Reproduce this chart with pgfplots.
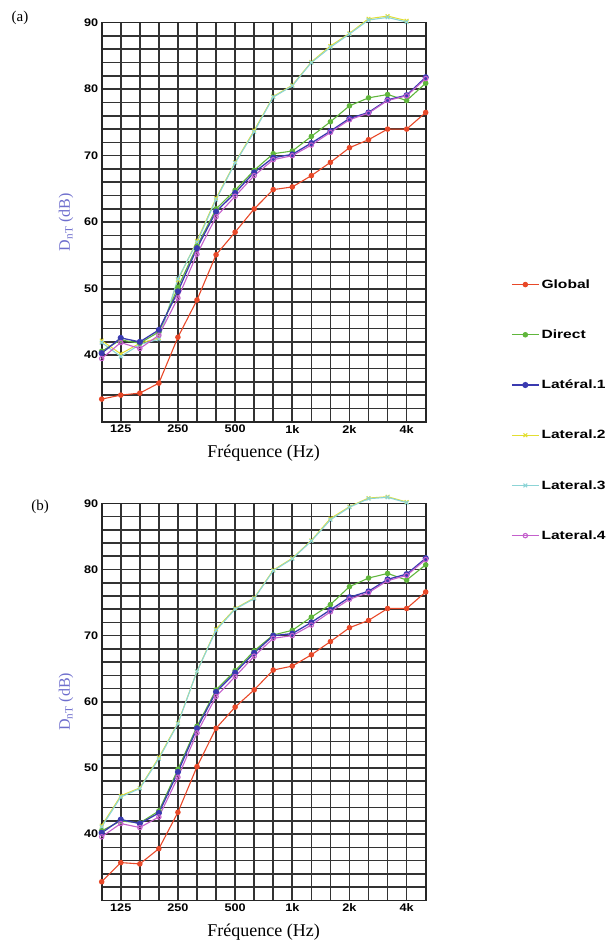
\documentclass[border=0pt]{standalone}
\usepackage{fontspec}
\setmainfont{Liberation Serif}
\newfontfamily\ticksans[FakeStretch=1.15]{Liberation Sans}
\newfontfamily\legsans[FakeStretch=1.3]{Liberation Sans}
\usepackage{pgfplots}
\usepackage{pgfplotstable}
\pgfplotsset{compat=1.18}

\definecolor{cglobal}{RGB}{232,72,40}
\definecolor{cdirect}{RGB}{96,182,60}
\definecolor{clatA}{RGB}{58,58,176}
\definecolor{clatB}{RGB}{226,222,50}
\definecolor{clatC}{RGB}{140,212,214}
\definecolor{clatD}{RGB}{196,96,204}
\definecolor{ylab}{RGB}{110,110,205}

% columns: i  G  D  L1  L2  L3  L4
\pgfplotstableread{
i  G     D     L1    L2    L3    L4
0  33.4  40.6  40.3  42.2  41.9  39.5
1  34.0  42.3  42.6  40.2  39.8  41.9
2  34.3  41.8  42.0  41.8  41.6  41.0
3  35.8  43.5  43.8  42.6  42.4  43.0
4  42.7  50.2  49.6  51.3  51.5  48.6
5  48.3  56.4  56.1  57.2  57.0  55.2
6  55.1  62.0  61.6  63.6  63.4  60.8
7  58.5  64.8  64.4  69.0  68.9  63.9
8  62.0  67.8  67.5  73.8  73.6  67.0
9  64.9  70.3  69.7  78.9  78.8  69.4
10 65.3  70.7  70.2  80.6  80.5  70.0
11 67.0  72.9  71.9  84.1  84.0  71.6
12 69.0  75.1  73.7  86.5  86.3  73.5
13 71.2  77.5  75.6  88.4  88.3  75.4
14 72.4  78.7  76.5  90.6  90.4  76.4
15 74.0  79.2  78.4  91.0  90.8  78.3
16 74.0  78.3  79.1  90.3  90.1  79.0
17 76.5  80.9  81.8  nan   nan   81.6
}\dataA

\pgfplotstableread{
i  G     D     L1    L2    L3    L4
0  32.8  40.5  40.2  41.3  41.1  39.6
1  35.7  42.0  42.2  45.8  45.6  41.6
2  35.5  41.7  41.6  47.0  46.9  41.0
3  37.8  43.5  43.2  51.6  51.4  42.6
4  43.3  49.8  49.4  56.8  56.7  48.6
5  50.2  56.3  56.0  64.6  64.6  55.3
6  56.0  61.8  61.5  71.0  70.8  60.8
7  59.2  64.7  64.4  74.1  74.0  63.8
8  61.8  67.7  67.4  75.7  75.6  66.9
9  64.8  70.1  70.0  79.9  79.8  69.6
10 65.4  70.8  70.3  81.7  81.6  70.0
11 67.1  72.8  72.0  84.4  84.3  71.6
12 69.1  74.7  73.9  87.7  87.5  73.6
13 71.2  77.4  75.8  89.5  89.4  75.5
14 72.3  78.7  76.7  90.8  90.7  76.5
15 74.1  79.4  78.5  91.0  90.9  78.3
16 74.1  78.4  79.3  90.2  90.1  79.1
17 76.6  80.7  81.7  nan   nan   81.5
}\dataB

\pgfplotsset{
  panel/.style={
    scale only axis, width=324pt,
    xmin=0, xmax=17, ymin=30, ymax=90,
    xtick={1,4,7,10,13,16}, xticklabels={125,250,500,1k,2k,4k},
    minor xtick={0,...,17},
    ytick={40,50,...,90}, minor ytick={30,32,...,90},
    grid=both,
    major grid style={black!80, line width=1.6pt},
    minor grid style={black!80, line width=1.6pt},
    major tick length=0pt, minor tick length=0pt,
    axis line style={black!85, line width=1.6pt},
    tick label style={font=\ticksans\bfseries\fontsize{11}{13}\selectfont},
    /pgf/number format/assume math mode=true,
    xlabel={Fréquence (Hz)},
    xlabel style={font=\fontsize{18}{21}\selectfont, at={(axis description cs:0.5,-0.08)}, anchor=center},
    ylabel={D\textsubscript{nT} (dB)},
    ylabel style={font=\fontsize{16}{19}\selectfont, text=ylab, at={(axis description cs:-0.11,0.5)}, anchor=center},
    clip=false,
    unbounded coords=jump,
  },
  sG/.style={color=cglobal, line width=1.1pt, mark=*, mark size=2.2pt, mark options={fill=cglobal}},
  sD/.style={color=cdirect, line width=1.1pt, mark=*, mark size=2.2pt, mark options={fill=cdirect}},
  sL1/.style={color=clatA, line width=1.3pt, mark=*, mark size=2.4pt, mark options={fill=clatA}},
  sL2/.style={color=clatB, line width=1.0pt, mark=x, mark size=2.6pt},
  sL3/.style={color=clatC, line width=1.1pt, mark=x, mark size=2.6pt},
  sL4/.style={color=clatD, line width=1.1pt, mark=o, mark size=2.2pt, mark options={fill=white}},
}

\begin{document}
\begin{tikzpicture}
\path[use as bounding box] (0,0) rectangle (612pt,-941pt);

\begin{axis}[panel, at={(101.7pt,-22.7pt)}, anchor=north west, height=399pt,
  legend style={draw=none, fill=none, at={(1.254,0.367)}, anchor=north west,
    font=\legsans\bfseries\fontsize{12}{14}\selectfont, row sep=36pt,
    legend cell align=left},
  legend image code/.code={\draw[mark repeat=2,mark phase=2,#1] plot coordinates {(0pt,0pt) (13.5pt,0pt) (27pt,0pt)};},
]
\addlegendimage{sG}\addlegendentry{Global}
\addlegendimage{sD}\addlegendentry{Direct}
\addlegendimage{sL1}\addlegendentry{Latéral.1}
\addlegendimage{sL2}\addlegendentry{Lateral.2}
\addlegendimage{sL3}\addlegendentry{Lateral.3}
\addlegendimage{sL4}\addlegendentry{Lateral.4}
\addplot[sL2, forget plot] table[x=i, y=L2] {\dataA};
\addplot[sL3, forget plot] table[x=i, y=L3] {\dataA};
\addplot[sD, forget plot] table[x=i, y=D] {\dataA};
\addplot[sL1, forget plot] table[x=i, y=L1] {\dataA};
\addplot[sL4, forget plot] table[x=i, y=L4] {\dataA};
\addplot[sG, forget plot] table[x=i, y=G] {\dataA};
\end{axis}

\begin{axis}[panel, at={(101.7pt,-503.3pt)}, anchor=north west, height=397pt]
\addplot[sL2] table[x=i, y=L2] {\dataB};
\addplot[sL3] table[x=i, y=L3] {\dataB};
\addplot[sD] table[x=i, y=D] {\dataB};
\addplot[sL1] table[x=i, y=L1] {\dataB};
\addplot[sL4] table[x=i, y=L4] {\dataB};
\addplot[sG] table[x=i, y=G] {\dataB};
\end{axis}

\node[font=\fontsize{15}{18}\selectfont] at (20pt,-18pt) {(a)};
\node[font=\fontsize{15}{18}\selectfont] at (40pt,-507pt) {(b)};
\end{tikzpicture}
\end{document}
